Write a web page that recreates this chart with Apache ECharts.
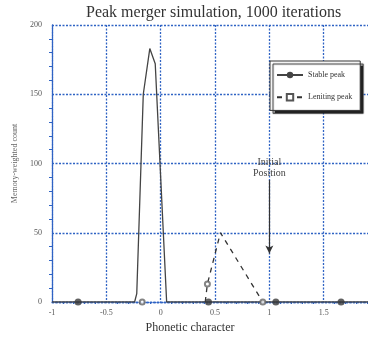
<!DOCTYPE html>
<html><head><meta charset="utf-8">
<script src="https://cdn.jsdelivr.net/npm/echarts@6/dist/echarts.min.js"></script>
<style>html,body{margin:0;padding:0;background:#fff}#c{width:368px;height:337px}</style>
</head><body><div id="c"></div>
<script>
const titleText = 'Peak merger simulation, 1000 iterations';
const xName = 'Phonetic character';
const yName = 'Memory-weighted count';
const seriesNames = ['Stable peak', 'Leniting peak'];
// Stable peak curve [x, count]
const stableX = [-1, -0.24, -0.22, -0.16, -0.1, -0.05, 0.055, 1.95];
const stableY = [0, 0, 6, 150, 183, 172, 0, 0];
// Stable peak markers
const stableMarkX = [-0.76, 0.44, 1.06, 1.66];
const stableMarkY = [0, 0, 0, 0];
// Leniting peak curve
const lenX = [0.41, 0.43, 0.55, 0.94];
const lenY = [0, 13, 50, 0];
// Leniting peak markers
const lenMarkX = [-0.17, 0.43, 0.94];
const lenMarkY = [0, 13, 0];
// Annotation
const annoText = 'Initial\nPosition';
const annoX = 1;
const annoFrom = 88;
const annoTo = 35;

const zip = (a, b) => a.map((v, i) => [v, b[i]]);
const serif = 'Liberation Serif';
const blue = '#2f63c4';
const dotted = {color: blue, type: [2, 1.5], width: 1.3};

const chart = echarts.init(document.getElementById('c'));
chart.setOption({
  animation: false,
  title: {text: titleText, left: 81, top: 0,
    textStyle: {fontFamily: serif, fontSize: 16, fontWeight: 'normal', color: '#333'}},
  grid: {left: 52, right: -10, top: 25, bottom: 35, outerBoundsMode: 'none', containLabel: false},
  legend: {
    data: seriesNames,
    orient: 'vertical', left: 270, top: 61, itemGap: 14, itemWidth: 26, itemHeight: 8,
    padding: [10, 8, 9, 6],
    backgroundColor: '#fff', borderColor: '#333', borderWidth: 1,
    shadowColor: '#222', shadowOffsetX: 3, shadowOffsetY: 3, shadowBlur: 1,
    textStyle: {fontFamily: serif, fontSize: 8, color: '#333'}
  },
  xAxis: {
    type: 'value', min: -1, max: 2, interval: 0.5,
    name: xName, nameLocation: 'middle', nameGap: 20,
    nameTextStyle: {fontFamily: serif, fontSize: 12, color: '#333', padding: [0, 0, 0, -50]},
    axisLine: {show: true, onZero: false, lineStyle: dotted},
    axisTick: {show: false},
    minorTick: {show: true, splitNumber: 5, length: 2, lineStyle: {color: blue}},
    splitLine: {show: true, lineStyle: dotted},
    axisLabel: {fontFamily: serif, fontSize: 8, color: '#555', margin: 7,
      formatter: v => v >= 2 ? '' : String(v)}
  },
  yAxis: {
    type: 'value', min: 0, max: 200, interval: 50,
    name: yName, nameLocation: 'middle', nameGap: 33,
    nameTextStyle: {fontFamily: serif, fontSize: 8, color: '#666'},
    axisLine: {show: true, onZero: false, lineStyle: dotted},
    axisTick: {show: false},
    minorTick: {show: true, splitNumber: 5, length: 3, lineStyle: {color: blue}},
    splitLine: {show: true, lineStyle: dotted},
    axisLabel: {fontFamily: serif, fontSize: 8, color: '#555', margin: 10}
  },
  series: [
    {
      name: seriesNames[0], type: 'line', data: zip(stableX, stableY),
      symbol: 'circle', symbolSize: 7, showSymbol: false,
      lineStyle: {color: '#444', width: 1.3}, itemStyle: {color: '#444'}, z: 3,
      markLine: {
        silent: true, symbol: ['none', 'arrow'], symbolSize: [6, 8],
        lineStyle: {color: '#333', type: 'solid', width: 1.2},
        label: {show: true, position: 'start', distance: 1, formatter: annoText,
          fontFamily: serif, fontSize: 10, lineHeight: 11, color: '#444'},
        data: [[{coord: [annoX, annoFrom]}, {coord: [annoX, annoTo]}]]
      }
    },
    {
      name: seriesNames[1], type: 'line', data: zip(lenX, lenY),
      symbol: 'emptyRect', symbolSize: 6, showSymbol: false,
      lineStyle: {color: '#333', width: 1.3, type: [5, 5]}, itemStyle: {color: '#555'}, z: 3
    },
    {
      name: 'stableMarks', type: 'scatter', data: zip(stableMarkX, stableMarkY),
      symbol: 'circle', symbolSize: 7, itemStyle: {color: '#3a3a3a'}, z: 4
    },
    {
      name: 'lenMarks', type: 'scatter', data: zip(lenMarkX, lenMarkY),
      symbol: 'emptyCircle', symbolSize: 5, itemStyle: {color: '#666', borderWidth: 1.2}, z: 4
    }
  ]
});
</script></body></html>
